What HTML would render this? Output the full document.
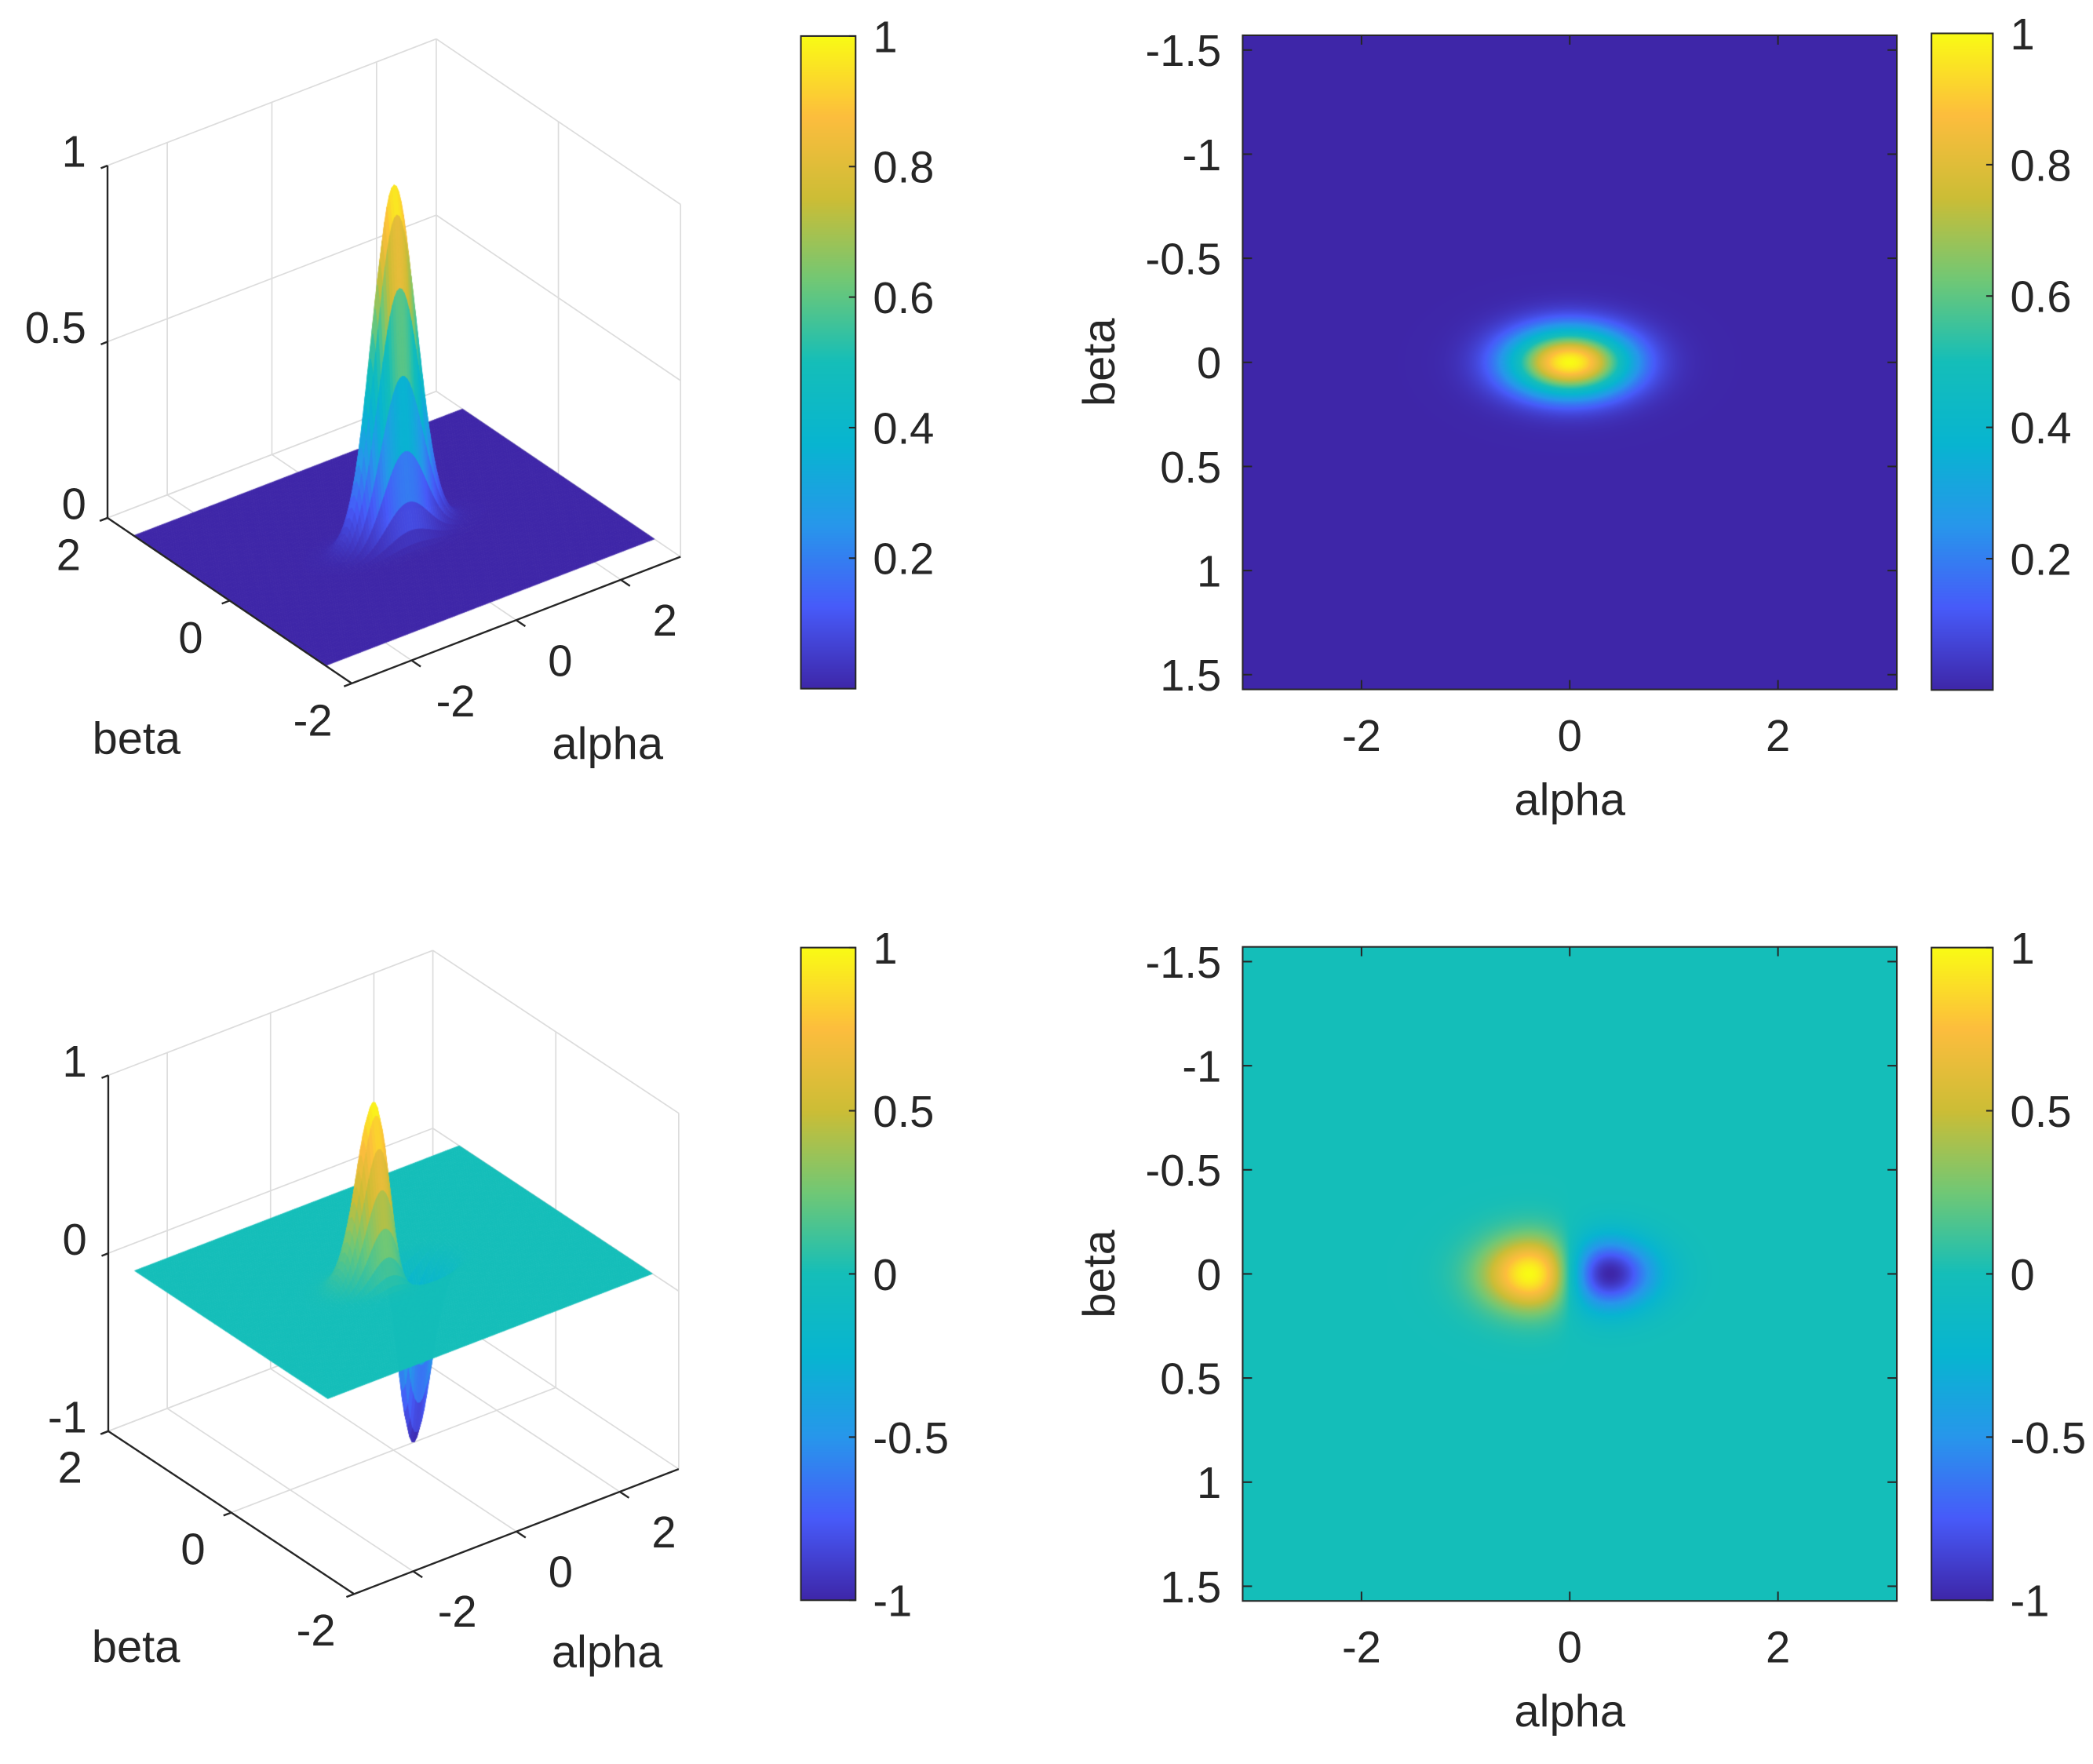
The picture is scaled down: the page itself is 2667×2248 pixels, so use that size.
<!DOCTYPE html>
<html><head><meta charset="utf-8">
<style>
html,body{margin:0;padding:0;background:#fff;}
#wrap{position:relative;width:2667px;height:2248px;overflow:hidden;background:#fff;}
#wrap svg,#wrap canvas{position:absolute;left:0;top:0;width:2667px;height:2248px;}
text{font-family:"Liberation Sans",Arial,sans-serif;fill:#262626;}
</style></head>
<body>
<div id="wrap">
<svg id="under" viewBox="0 0 1568 1321.7" preserveAspectRatio="none"></svg>
<canvas id="cv" width="2667" height="2248"></canvas>
<svg id="over" viewBox="0 0 1568 1321.7" preserveAspectRatio="none"></svg>
</div>
<script>
// ---------- data ----------
const alphaLimits = [-Math.PI, Math.PI];
const betaLimits = [-Math.PI/2, Math.PI/2];
const gaussCenter = [0, 0];
const gaussSigma = [0.4, 0.11];
const gaussAmp = [1];
const derivSigma = [0.39, 0.12];
const derivAmp = [1];
const heatXTicks = [-2, 0, 2];
const heatYTicks = [-1.5, -1, -0.5, 0, 0.5, 1, 1.5];
const heatYLabels = ["-1.5", "-1", "-0.5", "0", "0.5", "1", "1.5"];
const cb1Ticks = [0.2, 0.4, 0.6, 0.8, 1];
const cb1Labels = ["0.2", "0.4", "0.6", "0.8", "1"];
const cb2Ticks = [-1, -0.5, 0, 0.5, 1];
const cb2Labels = ["-1", "-0.5", "0", "0.5", "1"];
const box3dAlphaTicks = [-2, 0, 2];
const box3dBetaTicks = [-2, 0, 2];
const z1Ticks = [0, 0.5, 1];
const z1Labels = ["0", "0.5", "1"];
const z2Ticks = [-1, 0, 1];
const z2Labels = ["-1", "0", "1"];

function f1(a, b) {
  const da = (a - gaussCenter[0]) / gaussSigma[0], db = (b - gaussCenter[1]) / gaussSigma[1];
  return gaussAmp[0] * Math.exp(-0.5 * (da * da + db * db));
}
function f2(a, b) {
  const da = a / derivSigma[0], db = b / derivSigma[1];
  return -derivAmp[0] * da * Math.exp(0.5) * Math.exp(-0.5 * (da * da + db * db));
}

// ---------- helpers ----------
const S = 2667 / 1568;
const NS = "http://www.w3.org/2000/svg";
const under = document.getElementById('under');
const over = document.getElementById('over');
const cv = document.getElementById('cv');
const ctx = cv.getContext('2d');

const PAR = [
 [0, 0.2422, 0.1504, 0.6603],
 [0.125, 0.2780, 0.3556, 0.9777],
 [0.25, 0.1540, 0.5902, 0.9218],
 [0.375, 0.0297, 0.7082, 0.8163],
 [0.5, 0.0800, 0.7450, 0.7250],
 [0.625, 0.4420, 0.7828, 0.4600],
 [0.75, 0.8000, 0.7400, 0.2100],
 [0.875, 0.9900, 0.7400, 0.2400],
 [1, 0.9769, 0.9839, 0.0805]];
function parula(t) {
  t = Math.max(0, Math.min(1, t));
  for (let i = 1; i < PAR.length; i++) {
    if (t <= PAR[i][0]) {
      const p = PAR[i - 1], q = PAR[i], u = (t - p[0]) / (q[0] - p[0]);
      return [0, 1, 2].map(k => Math.round(255 * (p[k + 1] + u * (q[k + 1] - p[k + 1]))));
    }
  }
  return [249, 251, 21];
}
function mk(tag, attrs, parent) {
  const e = document.createElementNS(NS, tag);
  for (const k in attrs) e.setAttribute(k, attrs[k]);
  parent.appendChild(e);
  return e;
}
function txt(str, x, y, anchor, parent, name, size) {
  const t = mk('text', {x: x, y: y, 'text-anchor': anchor, 'font-size': size || 33}, parent);
  t.textContent = str;
  
  
  return t;
}
function line(x1, y1, x2, y2, stroke, w, parent, name) {
  const l = mk('line', {x1: x1, y1: y1, x2: x2, y2: y2, stroke: stroke, 'stroke-width': w}, parent);
  
  
  return l;
}

// ---------- heatmaps ----------
function heatmap(cfg) {
  const xs = v => cfg.cx + v * 78;
  const ys = v => cfg.cy + v * 156;
  const x0 = xs(alphaLimits[0]), x1 = xs(alphaLimits[1]), y0 = ys(betaLimits[0]), y1 = ys(betaLimits[1]);
  const X0 = Math.round(x0 * S), X1 = Math.round(x1 * S), Y0 = Math.round(y0 * S), Y1 = Math.round(y1 * S);
  const img = ctx.createImageData(X1 - X0, Y1 - Y0);
  for (let j = 0; j < Y1 - Y0; j++) {
    const b = ((Y0 + j + 0.5) / S - cfg.cy) / 156;
    for (let i = 0; i < X1 - X0; i++) {
      const a = ((X0 + i + 0.5) / S - cfg.cx) / 78;
      const c = parula((cfg.f(a, b) - cfg.cmin) / (cfg.cmax - cfg.cmin));
      const o = 4 * (j * (X1 - X0) + i);
      img.data[o] = c[0]; img.data[o + 1] = c[1]; img.data[o + 2] = c[2]; img.data[o + 3] = 255;
    }
  }
  ctx.putImageData(img, X0, Y0);
  const g = mk('g', {}, over);
  
  
  const fr = mk('rect', {x: x0, y: y0, width: x1 - x0, height: y1 - y0, fill: 'none', stroke: '#262626', 'stroke-width': 1.2}, g);
  
  
  heatXTicks.forEach(v => {
    line(xs(v), y1, xs(v), y1 - 7, '#262626', 1.2, g, 'x-tick');
    line(xs(v), y0, xs(v), y0 + 7, '#262626', 1.2, g, 'x-tick');
    txt(String(v), xs(v), y1 + 46, 'middle', g, 'x-tick-label');
  });
  heatYTicks.forEach((v, i) => {
    line(x0, ys(v), x0 + 7, ys(v), '#262626', 1.2, g, 'y-tick');
    line(x1, ys(v), x1 - 7, ys(v), '#262626', 1.2, g, 'y-tick');
    txt(heatYLabels[i], x0 - 16, ys(v) + 12, 'end', g, 'y-tick-label');
  });
  txt('alpha', cfg.cx, y1 + 94, 'middle', g, 'x-axis-title', 34);
  const bt = txt('beta', 0, 0, 'middle', g, 'y-axis-title', 34);
  bt.setAttribute('transform', 'translate(835,' + cfg.cy + ') rotate(-90)');
}

// ---------- colorbars ----------
function colorbar(cfg) {
  const X0 = Math.round(cfg.x0 * S), X1 = Math.round(cfg.x1 * S), Y0 = Math.round(cfg.y0 * S), Y1 = Math.round(cfg.y1 * S);
  for (let j = Y0; j < Y1; j++) {
    const t = 1 - (j - Y0 + 0.5) / (Y1 - Y0);
    const c = parula(t);
    ctx.fillStyle = 'rgb(' + c.join(',') + ')';
    ctx.fillRect(X0, j, X1 - X0, 1);
  }
  const g = mk('g', {}, over);
  
  
  const fr = mk('rect', {x: cfg.x0, y: cfg.y0, width: cfg.x1 - cfg.x0, height: cfg.y1 - cfg.y0, fill: 'none', stroke: '#262626', 'stroke-width': 1.2}, g);
  
  
  const ys = v => cfg.y1 - (v - cfg.min) / (cfg.max - cfg.min) * (cfg.y1 - cfg.y0);
  cfg.ticks.forEach((v, i) => {
    line(cfg.x1, ys(v), cfg.x1 - 5, ys(v), '#262626', 1.2, g, 'colorbar-tick');
    txt(cfg.labels[i], cfg.x1 + 13, ys(v) + 12, 'start', g, 'colorbar-tick-label');
  });
}

// ---------- 3D surfaces ----------
function surf3d(cfg) {
  const P = (a, b, z) => [cfg.O[0] + a * cfg.ea[0] + b * cfg.eb[0], cfg.O[1] + a * cfg.ea[1] + b * cfg.eb[1] - z * cfg.ez];
  const A0 = alphaLimits[0], A1 = alphaLimits[1], B0 = -2, B1 = 2, Z0 = cfg.zmin, Z1 = cfg.zmax;
  const grid = '#dcdcdc';
  const gg = mk('g', {}, under);
  
  
  const L = (p, q, c, w, par, n) => line(p[0], p[1], q[0], q[1], c, w, par, n);
  box3dAlphaTicks.forEach(v => L(P(v, B1, Z0), P(v, B1, Z1), grid, 1, gg, 'grid-line'));
  cfg.zTicks.forEach(v => L(P(A0, B1, v), P(A1, B1, v), grid, 1, gg, 'grid-line'));
  box3dBetaTicks.forEach(v => L(P(A1, v, Z0), P(A1, v, Z1), grid, 1, gg, 'grid-line'));
  cfg.zTicks.forEach(v => L(P(A1, B0, v), P(A1, B1, v), grid, 1, gg, 'grid-line'));
  box3dAlphaTicks.forEach(v => L(P(v, B0, Z0), P(v, B1, Z0), grid, 1, gg, 'grid-line'));
  box3dBetaTicks.forEach(v => L(P(A0, v, Z0), P(A1, v, Z0), grid, 1, gg, 'grid-line'));

  const NA = 140, NB = 70;
  const pts = [];
  for (let i = 0; i <= NA; i++) {
    pts.push([]);
    for (let j = 0; j <= NB; j++) {
      const a = A0 + (A1 - A0) * i / NA, b = betaLimits[0] + (betaLimits[1] - betaLimits[0]) * j / NB;
      const z = cfg.f(a, b);
      pts[i].push({a: a, b: b, z: z, p: P(a, b, z)});
    }
  }
  const quads = [];
  for (let i = 0; i < NA; i++) for (let j = 0; j < NB; j++) {
    const q = [pts[i][j], pts[i + 1][j], pts[i + 1][j + 1], pts[i][j + 1]];
    const za = (q[0].z + q[1].z + q[2].z + q[3].z) / 4;
    const am = (q[0].a + q[2].a) / 2, bm = (q[0].b + q[2].b) / 2;
    quads.push({q: q, z: za, key: 15 * am + 31 * bm});
  }
  quads.sort((u, v) => v.key - u.key);
  ctx.save();
  ctx.scale(S, S);
  ctx.lineJoin = 'round';
  quads.forEach(o => {
    const c = parula((o.z - cfg.cmin) / (cfg.cmax - cfg.cmin));
    const col = 'rgb(' + c.join(',') + ')';
    ctx.fillStyle = col; ctx.strokeStyle = col; ctx.lineWidth = 0.5;
    ctx.beginPath();
    o.q.forEach((p, k) => k ? ctx.lineTo(p.p[0], p.p[1]) : ctx.moveTo(p.p[0], p.p[1]));
    ctx.closePath(); ctx.fill(); ctx.stroke();
  });
  ctx.restore();

  const g = mk('g', {}, over);
  
  
  const dark = '#262626';
  L(P(A0, B1, Z0), P(A0, B1, Z1), dark, 1.4, g, 'z-axis-line');
  L(P(A0, B1, Z0), P(A0, B0, Z0), dark, 1.4, g, 'beta-axis-line');
  L(P(A0, B0, Z0), P(A1, B0, Z0), dark, 1.4, g, 'alpha-axis-line');
  cfg.zTicks.forEach((v, i) => {
    const p = P(A0, B1, v);
    L(p, [p[0] - 5, p[1] + 2], dark, 1.4, g, 'z-tick');
    txt(cfg.zLabels[i], p[0] - 16, p[1] + 1, 'end', g, 'z-tick-label');
  });
  box3dBetaTicks.forEach(v => {
    const p = P(A0, v, Z0), q = P(A0 - 0.15, v, Z0);
    L(p, q, dark, 1.4, g, 'beta-tick');
    const t = P(A0 - 0.8, v - 0.55, Z0);
    txt(String(v), t[0] - 23, t[1] + 10, 'middle', g, 'beta-tick-label');
  });
  box3dAlphaTicks.forEach(v => {
    const p = P(v, B0, Z0), q = P(v, B0 - 0.15, Z0);
    L(p, q, dark, 1.4, g, 'alpha-tick');
    const t = P(v + 0.35, B0 - 0.75, Z0);
    txt(String(v), t[0] - 15, t[1] + 24, 'middle', g, 'alpha-tick-label');
  });
  txt('beta', cfg.O[0] - 193, cfg.O[1] + 162 + cfg.labelDy, 'middle', g, 'beta-axis-title', 34);
  txt('alpha', cfg.O[0] + 160, cfg.O[1] + 166 + cfg.labelDy, 'middle', g, 'alpha-axis-title', 34);
}

surf3d({name: 'surface-top', O: [295.2, 402.6], ea: [39.2, -15.1], eb: [-45.75, -31], ez: 264, zmin: 0, zmax: 1,
  zTicks: z1Ticks, zLabels: z1Labels, f: f1, cmin: 0, cmax: 1, labelDy: 0});
surf3d({name: 'surface-bottom', O: [294.8, 953.2], ea: [38.7, -14.9], eb: [-46.05, -30.5], ez: 133.3, zmin: -1, zmax: 1,
  zTicks: z2Ticks, zLabels: z2Labels, f: f2, cmin: -1, cmax: 1, labelDy: 130});

heatmap({name: 'heatmap-top', cx: 1176, cy: 271.5, f: f1, cmin: 0, cmax: 1});
heatmap({name: 'heatmap-bottom', cx: 1176, cy: 954.5, f: f2, cmin: -1, cmax: 1});

colorbar({name: 'colorbar-top-left', x0: 600, x1: 641, y0: 27, y1: 516, min: 0, max: 1, ticks: cb1Ticks, labels: cb1Labels});
colorbar({name: 'colorbar-top-right', x0: 1447, x1: 1493, y0: 25, y1: 517, min: 0, max: 1, ticks: cb1Ticks, labels: cb1Labels});
colorbar({name: 'colorbar-bottom-left', x0: 600, x1: 641, y0: 710, y1: 1199, min: -1, max: 1, ticks: cb2Ticks, labels: cb2Labels});
colorbar({name: 'colorbar-bottom-right', x0: 1447, x1: 1493, y0: 710, y1: 1199, min: -1, max: 1, ticks: cb2Ticks, labels: cb2Labels});
</script>
</body></html>
